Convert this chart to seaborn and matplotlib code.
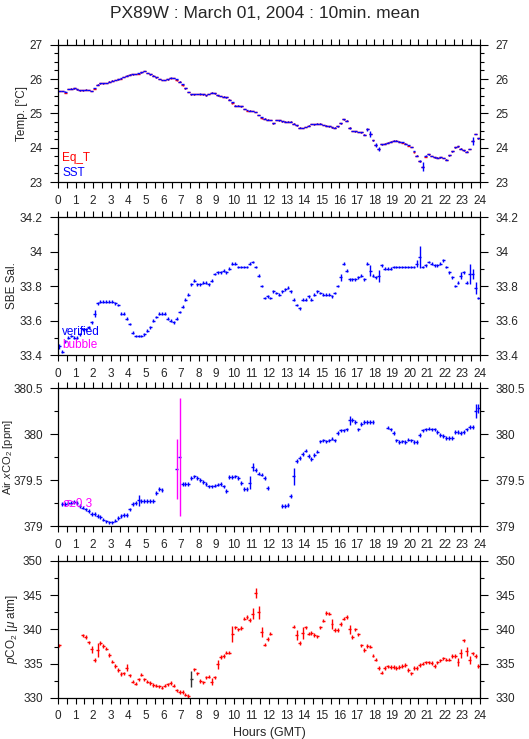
import numpy as np
import matplotlib
matplotlib.use("Agg")
import matplotlib.pyplot as plt
import matplotlib.ticker as ticker
import seaborn as sns

# ---- data: 10-minute means, 6 values per hour (rows = hours 0..23) ----
sst = [
    25.65, 25.65, 25.63, 25.71, 25.72, 25.73,
    25.70, 25.67, 25.67, 25.69, 25.68, 25.65,
    25.74, 25.84, 25.87, 25.87, 25.88, 25.92,
    25.95, 25.97, 25.99, 26.02, 26.06, 26.10,
    26.13, 26.14, 26.15, 26.17, 26.20, 26.23,
    26.18, 26.14, 26.10, 26.05, 26.00, 25.97,
    25.97, 25.99, 26.04, 26.03, 25.99, 25.92,
    25.85, 25.73, 25.62, 25.55, 25.55, 25.56,
    25.57, 25.55, 25.53, 25.56, 25.60, 25.58,
    25.53, 25.51, 25.49, 25.47, 25.40, 25.32,
    25.22, 25.22, 25.20, 25.13, 25.10, 25.08,
    25.07, 25.04, 24.95, 24.88, 24.85, 24.82,
    24.81, 24.71, 24.81, 24.80, 24.77, 24.76,
    24.76, 24.76, 24.70, 24.65, 24.58, 24.57,
    24.60, 24.64, 24.69, 24.68, 24.70, 24.70,
    24.66, 24.64, 24.62, 24.59, 24.58, 24.62,
    24.71, 24.83, 24.79, 24.58, 24.49, 24.48,
    24.46, 24.45, 24.38, 24.54, 24.40, 24.21,
    24.08, 23.96, 24.10, 24.12, 24.15, 24.18,
    24.20, 24.20, 24.18, 24.16, 24.12, 24.08,
    24.02, 23.89, 23.77, 23.60, 23.45, 23.77,
    23.81, 23.76, 23.72, 23.71, 23.72, 23.70,
    23.65, 23.78, 23.89, 24.01, 24.04, 23.97,
    23.92, 23.88, 23.96, 24.20, 24.40, 24.27,
]
sst_err_base = 0.01
sst_err_big = {99: 0.03, 105: 0.04, 106: 0.1, 108: 0.05, 109: 0.06,
               123: 0.03, 124: 0.12, 141: 0.12}
# Eq_T sits right under SST; only these bins differ visibly
eqt_diff = {2: -0.03, 12: -0.02, 21: -0.02, 27: -0.02, 38: -0.02, 40: -0.03,
            42: -0.03, 48: -0.02, 59: -0.03, 64: -0.02, 69: -0.02,
            117: -0.02, 119: -0.03, 121: -0.03, 125: -0.03}

sal = [
    33.45, 33.42, 33.48, 33.50, 33.51, 33.50,
    33.50, 33.52, 33.55, 33.55, 33.56, 33.59,
    33.64, 33.70, 33.71, 33.71, 33.71, 33.71,
    33.71, 33.70, 33.69, 33.64, 33.64, 33.61,
    33.58, 33.53, 33.51, 33.51, 33.51, 33.52,
    33.54, 33.56, 33.60, 33.62, 33.64, 33.64,
    33.64, 33.61, 33.60, 33.59, 33.61, 33.65,
    33.68, 33.72, 33.75, 33.81, 33.83, 33.81,
    33.81, 33.82, 33.82, 33.81, 33.83, 33.87,
    33.88, 33.88, 33.89, 33.88, 33.90, 33.93,
    33.93, 33.91, 33.91, 33.91, 33.91, 33.93,
    33.94, 33.91, 33.86, 33.80, 33.73, 33.74,
    33.73, 33.77, 33.76, 33.75, 33.77, 33.78,
    33.79, 33.77, 33.72, 33.69, 33.67, 33.72,
    33.72, 33.74, 33.72, 33.75, 33.77, 33.76,
    33.75, 33.75, 33.75, 33.74, 33.76, 33.80,
    33.85, 33.93, 33.89, 33.84, 33.84, 33.84,
    33.85, 33.86, 33.84, 33.93, 33.89, 33.86,
    33.85, 33.86, 33.92, 33.90, 33.90, 33.90,
    33.91, 33.91, 33.91, 33.91, 33.91, 33.91,
    33.91, 33.91, 33.93, 33.97, 33.91, 33.92,
    33.94, 33.93, 33.92, 33.92, 33.93, 33.95,
    33.91, 33.88, 33.85, 33.80, 33.82, 33.86,
    33.88, 33.82, 33.87, 33.87, 33.79, 33.73,
]
sal_err_base = 0.008
sal_err_big = {0: 0.015, 12: 0.02, 96: 0.02, 106: 0.03, 109: 0.035,
               122: 0.02, 123: 0.065, 137: 0.02, 140: 0.06, 141: 0.03, 142: 0.035}

nan = np.nan
air = [
    nan, 379.24, 379.24, 379.25, 379.25, 379.26,
    379.25, 379.22, 379.20, 379.18, 379.16, 379.13,
    379.13, 379.11, 379.10, 379.07, 379.05, 379.04,
    379.04, 379.06, 379.09, 379.11, 379.12, 379.12,
    379.18, 379.24, 379.25, 379.28, 379.27, 379.27,
    379.27, 379.27, 379.27, 379.36, 379.40, 379.39,
    nan, nan, nan, nan, 379.62, 379.75,
    379.46, 379.46, 379.46, 379.52, 379.54, 379.52,
    379.50, 379.48, 379.46, 379.43, 379.43, 379.44,
    379.45, 379.46, 379.43, 379.38, 379.53, 379.53,
    379.54, 379.52, 379.47, 379.40, 379.40, 379.47,
    379.64, 379.61, 379.57, 379.56, 379.52, 379.41,
    nan, nan, nan, nan, 379.22, 379.22,
    379.23, 379.33, 379.54, 379.71, 379.74, 379.78,
    379.82, 379.76, 379.73, 379.77, 379.81, 379.92,
    379.93, 379.92, 379.93, 379.95, 379.93, 380.01,
    380.04, 380.04, 380.05, 380.15, 380.15, 380.13,
    380.05, 380.11, 380.13, 380.13, 380.13, 380.13,
    nan, nan, nan, nan, 380.07, 380.05,
    380.01, 379.93, 379.91, 379.92, 379.91, 379.94,
    379.93, 379.91, 379.91, 379.99, 380.04, 380.05,
    380.06, 380.05, 380.05, 380.02, 379.99, 379.98,
    379.96, 379.96, 379.96, 380.02, 380.02, 380.01,
    380.02, 380.05, 380.08, 380.08, 380.25, 380.28,
]
air_err_base = 0.02
air_err_big = {27: 0.06, 40: 0.33, 41: 0.64, 65: 0.07, 66: 0.04, 80: 0.09,
               99: 0.05, 142: 0.08, 143: 0.05}

pco2 = [
    337.7, nan, nan, nan, nan, nan,
    nan, nan, 339.15, 338.9, 338.1, 337.1,
    335.6, 337.0, 338.0, 337.6, 337.2, 336.3,
    335.3, 334.7, 334.1, 333.5, 333.6, 334.4,
    333.3, 332.4, 332.1, 332.7, 333.4, 332.7,
    332.4, 332.2, 331.9, 331.8, 331.7, 331.5,
    331.8, 332.0, 332.2, 331.8, 331.1, 330.9,
    330.9, 330.5, 330.3, 332.8, 334.2, 333.6,
    332.5, 332.3, 333.0, 333.1, 332.4, 333.0,
    334.9, 336.0, 336.1, 336.6, 336.6, 339.3,
    340.3, 340.0, 340.2, 341.6, 341.8, 341.4,
    342.3, 345.3, 342.5, 339.6, 337.8, 338.6,
    339.4, nan, nan, nan, nan, nan,
    nan, nan, 340.4, 339.2, 338.0, 339.5,
    340.3, 339.4, 339.5, 339.2, 339.0, 340.3,
    341.3, 342.4, 342.3, 340.8, 339.9, 339.9,
    340.8, 341.6, 341.8, 340.0, 338.9, 340.0,
    339.3, 337.7, 337.0, 337.6, 337.5, 336.2,
    335.6, 334.4, 333.7, 334.4, 334.6, 334.5,
    334.5, 334.4, 334.5, 334.7, 334.8, 334.1,
    333.6, 334.4, 334.4, 334.8, 335.0, 335.2,
    335.2, 335.1, 334.7, 335.2, 335.5, 335.8,
    335.6, 335.6, 336.1, 336.1, 335.3, 336.5,
    338.4, 336.8, 335.5, 336.5, 336.1, 334.7,
]
pco2_err_base = 0.25
pco2_err_big = {11: 0.5, 12: 0.3, 13: 1.0, 23: 0.5, 45: 1.2, 52: 0.5, 54: 0.7,
                59: 1.2, 66: 0.8, 67: 0.7, 68: 1.0, 69: 0.7, 81: 0.7, 83: 0.9,
                93: 0.7, 99: 0.6, 136: 0.6, 137: 0.7, 139: 0.7, 140: 0.6}
pco2_flagged = [45]

# ---- helpers ----
t = np.arange(144) / 6 + 1 / 12      # centre of each 10 min bin
half_bin = 1 / 12


def make_err(base, big):
    e = np.full(144, base)
    for k, v in big.items():
        e[k] = v
    return e


def style_axis(ax, ylim, major, minor, ylabel, label_x, label_size=8.5):
    ax.set_xlim(0, 24)
    ax.set_ylim(*ylim)
    ax.xaxis.set_major_locator(ticker.MultipleLocator(1))
    ax.xaxis.set_minor_locator(ticker.MultipleLocator(0.5))
    ax.yaxis.set_major_locator(ticker.MultipleLocator(major))
    ax.yaxis.set_minor_locator(ticker.MultipleLocator(minor))
    ax.yaxis.set_major_formatter(ticker.FormatStrFormatter('%g'))
    ax.tick_params(which='both', direction='out', top=True, right=True,
                   labelright=True, labelsize=8.5, width=0.8, color='black')
    ax.tick_params(axis='y', which='major', length=6, pad=5)
    ax.tick_params(axis='y', which='minor', length=3)
    ax.tick_params(axis='x', which='both', length=4, pad=5)
    for s in ax.spines.values():
        s.set_color('black')
        s.set_linewidth(0.9)
        s.set_visible(True)
    ax.set_ylabel(ylabel, fontsize=label_size)
    ax.yaxis.set_label_coords(label_x, 0.5)
    ax.grid(False)


def draw_cross(ax, y, err, color, mask=None):
    y = np.asarray(y, dtype=float)
    if mask is None:
        mask = np.ones(len(y), dtype=bool)
    ax.errorbar(t[mask], y[mask], xerr=half_bin, yerr=err[mask], fmt='none',
                ecolor=color, elinewidth=1.0, capsize=0)


sns.set_theme(style="ticks")
plt.rcParams['font.family'] = ['Liberation Sans', 'DejaVu Sans']
plt.rcParams['mathtext.fontset'] = 'custom'
plt.rcParams['mathtext.rm'] = 'Liberation Sans'
plt.rcParams['mathtext.it'] = 'Liberation Sans:italic'

fig = plt.figure(figsize=(5.29, 7.39), dpi=100)
left, width = 0.1096, 0.7977
ax1 = fig.add_axes([left, 0.7537, width, 0.1858])
ax2 = fig.add_axes([left, 0.5196, width, 0.1867])
ax3 = fig.add_axes([left, 0.2882, width, 0.1867])
ax4 = fig.add_axes([left, 0.0555, width, 0.1854])

# panel 1 : temperatures
sst_err = make_err(sst_err_base, sst_err_big)
eq_t = np.array(sst, dtype=float)
for k, v in eqt_diff.items():
    eq_t[k] = sst[k] + v
draw_cross(ax1, eq_t, np.full(144, 0.01), 'red')
draw_cross(ax1, sst, sst_err, 'blue')
style_axis(ax1, (23, 27), 1, 0.25, 'Temp. [°C]', -0.072)
ax1.text(0.01, 0.175, 'Eq_T', color='red', fontsize=8.5, transform=ax1.transAxes, va='center')
ax1.text(0.01, 0.066, 'SST', color='blue', fontsize=8.5, transform=ax1.transAxes, va='center')

# panel 2 : salinity
draw_cross(ax2, sal, make_err(sal_err_base, sal_err_big), 'blue')
style_axis(ax2, (33.4, 34.2), 0.2, 0.1, 'SBE Sal.', -0.095)
ax2.text(0.01, 0.167, 'verified', color='blue', fontsize=8.5, transform=ax2.transAxes, va='center')
ax2.text(0.01, 0.072, 'bubble', color='magenta', fontsize=8.5, transform=ax2.transAxes, va='center')

# panel 3 : air xCO2 (sigma >= 0.3 drawn in magenta)
air_arr = np.array(air, dtype=float)
air_err = make_err(air_err_base, air_err_big)
big = air_err >= 0.3
ax3.errorbar(t, air_arr, xerr=half_bin, fmt='none', ecolor='blue', elinewidth=1.0)
ax3.errorbar(t[~big], air_arr[~big], yerr=air_err[~big], fmt='none', ecolor='blue', elinewidth=1.0)
ax3.errorbar(t[big], air_arr[big], yerr=air_err[big], fmt='none', ecolor='magenta', elinewidth=1.0)
style_axis(ax3, (379, 380.5), 0.5, 0.25, r'Air $\it{x}$CO$_2$ [ppm]', -0.103, label_size=8)
ax3.text(0.01, 0.16, 'σ≥0.3', color='magenta', fontsize=8.5, transform=ax3.transAxes, va='center')

# panel 4 : seawater pCO2
pco2_arr = np.array(pco2, dtype=float)
pco2_err = make_err(pco2_err_base, pco2_err_big)
flag = np.zeros(144, dtype=bool)
flag[pco2_flagged] = True
draw_cross(ax4, pco2_arr, pco2_err, 'red', ~flag)
draw_cross(ax4, pco2_arr, pco2_err, '#333333', flag)
style_axis(ax4, (330, 350), 5, 2.5, r'$\it{p}$CO$_2$ [$\mu$ atm]', -0.09)
ax4.set_xlabel('Hours (GMT)', fontsize=9, labelpad=3)

fig.suptitle('PX89W : March 01, 2004 : 10min. mean', fontsize=12.5, y=0.992)

plt.savefig('out.png', dpi=100)
